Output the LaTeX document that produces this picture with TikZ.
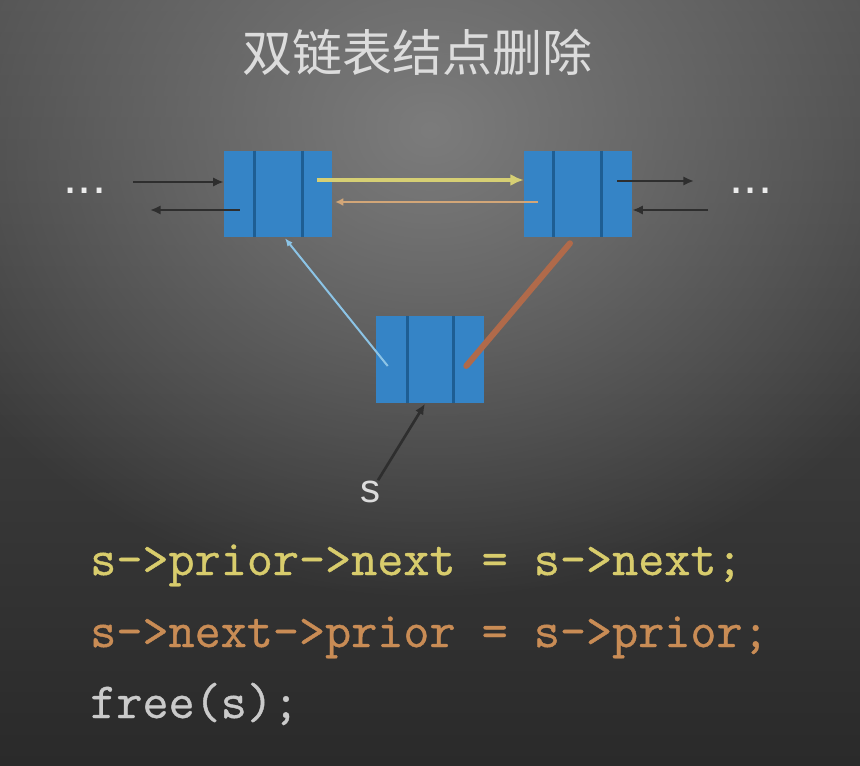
\documentclass[tikz,border=0pt]{standalone}
\usepackage{fontspec}
\setmainfont{Liberation Sans}
\newfontfamily\cjkfont{Noto Sans CJK SC}
\newfontfamily\codefont{Latin Modern Mono}[FakeBold=0.8]
\usetikzlibrary{arrows.meta,calc,fadings}
\definecolor{bgtop}{HTML}{4E4E4E}
\definecolor{bgbot}{HTML}{2A2A2A}
\definecolor{bgspot}{HTML}{7C7C7C}
\definecolor{boxblue}{HTML}{3584C6}
\definecolor{boxdiv}{HTML}{1E5E93}
\definecolor{darrow}{HTML}{2E2E2E}
\definecolor{yelarrow}{HTML}{D6CF74}
\definecolor{orgarrow}{HTML}{D2A678}
\definecolor{bluearrow}{HTML}{8CC4E6}
\definecolor{brownline}{HTML}{B06A4A}
\definecolor{codeyel}{HTML}{D8CC6C}
\definecolor{codeorg}{HTML}{C98C55}
\definecolor{codegray}{HTML}{CACACA}
\definecolor{titlegray}{HTML}{DCDCDC}
\tikzfading[name=softspot, inner color=transparent!0, outer color=transparent!100]
\tikzset{
  listnode/.style={fill=boxblue, minimum width=81pt, minimum height=64.5pt, inner sep=0pt, draw=none},
  divline/.style={draw=boxdiv, line width=2.2pt},
  blackarrow/.style={draw=darrow, line width=2pt, -{Latex[length=8pt,width=7pt]}},
  codetext/.style={font=\codefont\fontsize{38pt}{40pt}\selectfont, anchor=base west, inner sep=0pt},
  dots/.style={font=\fontsize{38pt}{40pt}\selectfont, text=white!85!gray, anchor=base, inner sep=0pt}
}
\begin{document}
\begin{tikzpicture}[x=0.75pt,y=-0.75pt]
\useasboundingbox (0,0) rectangle (860,766);
\begin{scope}
  \clip (0,0) rectangle (860,766);
  \shade[top color=bgtop, bottom color=bgbot] (0,0) rectangle (860,766);
  \fill[bgspot, path fading=softspot] (430,130) ellipse [x radius=560, y radius=470];
\end{scope}

% title
\node[font=\cjkfont\fontsize{37.5pt}{40pt}\selectfont, text=titlegray, inner sep=0pt] (title) at (417,52) {双链表结点删除};

% list nodes
\node[listnode] (A) at (278,194) {};
\node[listnode] (B) at (578,194) {};
\node[listnode] (S) at (430,359.5) {};
\foreach \n/\a/\b in {A/31/79, B/30/78, S/32/78}{
  \draw[divline] ($(\n.north west)+(\a,0)$) -- ($(\n.south west)+(\a,0)$);
  \draw[divline] ($(\n.north west)+(\b,0)$) -- ($(\n.south west)+(\b,0)$);
}

% dots
\node[dots] (dl) at (85,194) {...};
\node[dots] (dr) at (751,194) {...};

% outside links
\coordinate (inL) at (133,182);
\coordinate (outL) at (150,210);
\coordinate (outR) at (694,181);
\coordinate (inR) at (708,210);
\draw[blackarrow] (inL) -- ($(A.west)+(0,-12)$);
\draw[blackarrow] ($(A.west)+(16,16)$) -- (outL);
\draw[blackarrow] ($(B.east)+(-15,-13)$) -- (outR);
\draw[blackarrow] (inR) -- ($(B.east)+(0,16)$);

% links between A and B
\draw[draw=yelarrow, line width=3pt, -{Latex[length=10pt,width=9pt]}] ($(A.east)+(-15,-14)$) -- ($(B.west)+(0,-14)$);
\draw[draw=orgarrow, line width=1.3pt, -{Latex[length=6pt,width=6pt]}] ($(B.west)+(14,8)$) -- ($(A.east)+(3,8)$);

% links of S
\draw[draw=bluearrow, line width=1.5pt, -{Latex[length=6pt,width=5pt]}] ($(S.west)+(12,6.5)$) -- ($(A.south)+(7,1)$);
\draw[draw=brownline, line width=4.5pt, line cap=round] ($(S.east)+(-18,6.5)$) -- ($(B.south)+(-8,6)$);

% pointer s
\node[font=\fontsize{30pt}{32pt}\selectfont, text=titlegray, anchor=base, inner sep=0pt] (slabel) at (370,502) {s};
\draw[blackarrow] ($(slabel.north)+(8,0)$) -- ($(S.south)+(-5,1)$);

% code
\node[codetext, text=codeyel] (c1) at (90,575) {s->prior->next = s->next;};
\node[codetext, text=codeorg] (c2) at (90,647) {s->next->prior = s->prior;};
\node[codetext, text=codegray] (c3) at (90,718) {free(s);};
\end{tikzpicture}
\end{document}
